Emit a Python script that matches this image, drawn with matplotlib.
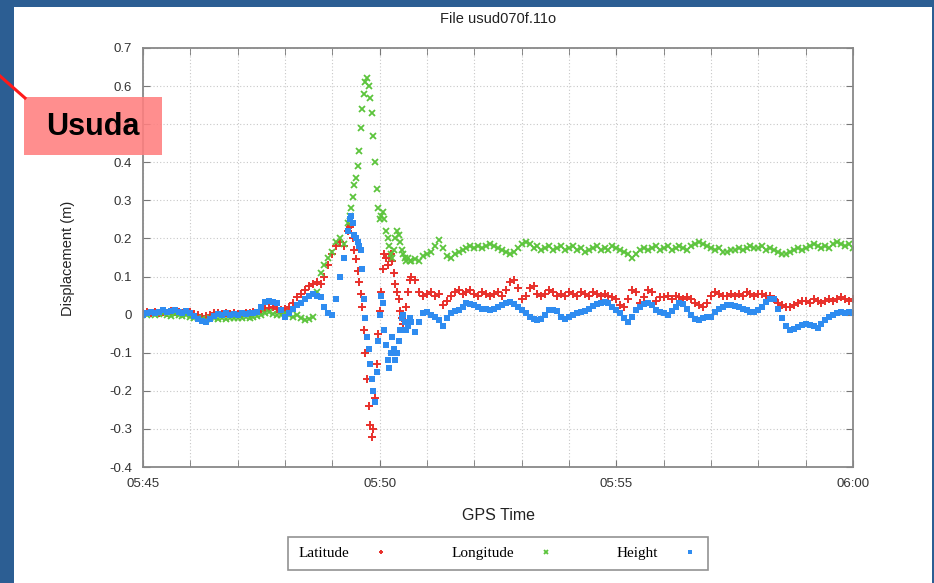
import numpy as np
import matplotlib
matplotlib.use('Agg')
from matplotlib import pyplot as plt
from matplotlib.patches import Rectangle
from matplotlib.lines import Line2D

# time axis: 5 s samples, 2 s samples around the shaking (seconds after 05:45:00)
t_sec = np.concatenate([np.arange(0, 260, 5), np.arange(260, 340, 2), np.arange(340, 905, 5)])

latitude = [
    # 05:45 - 05:49:15 (5 s)
    0.004, 0.006, 0.003, 0.008, 0.005, 0.007, 0.004, 0.009, 0.006, 0.008, 0.005, 0.007,
    0.006, 0.002, -0.002, -0.006, -0.004, 0.000, 0.003, 0.005, 0.002, 0.004, 0.001, 0.003,
    0.002, 0.000, 0.004, 0.003, 0.006, 0.005, 0.010, 0.015, 0.018, 0.020, 0.016, 0.012,
    0.015, 0.020, 0.030, 0.045, 0.055, 0.065, 0.075, 0.080, 0.085, 0.080, 0.100, 0.130,
    0.160, 0.180, 0.190, 0.180,
    # 05:49:20 - 05:50:38 (2 s)
    0.22, 0.23, 0.235, 0.20, 0.17, 0.145, 0.115, 0.085, 0.055, 0.02,
    -0.04, -0.10, -0.17, -0.24, -0.29, -0.32, -0.30, -0.22, -0.13, -0.05,
    0.01, 0.06, 0.12, 0.16, 0.15, 0.13, 0.15, 0.16, 0.14, 0.11,
    0.08, 0.06, 0.04, 0.01, -0.01, -0.025, -0.015, 0.02, 0.06, 0.09,
    # 05:50:40 - 06:00 (5 s)
    0.10, 0.09, 0.06, 0.05,
    0.055, 0.06, 0.05, 0.055, 0.025, 0.035, 0.05, 0.06, 0.065, 0.055, 0.06, 0.065,
    0.055, 0.05, 0.06, 0.055, 0.05, 0.055, 0.06, 0.05, 0.065, 0.085, 0.09, 0.07,
    0.04, 0.05, 0.07, 0.075, 0.055, 0.05, 0.055, 0.065, 0.06, 0.05, 0.055, 0.05,
    0.06, 0.055, 0.05, 0.06, 0.055, 0.05, 0.06, 0.055, 0.05, 0.055, 0.05, 0.045,
    0.04, 0.025, 0.02, 0.04, 0.065, 0.06, 0.03, 0.045, 0.065, 0.06, 0.035, 0.045,
    0.045, 0.05, 0.04, 0.05, 0.045, 0.04, 0.045, 0.04, 0.03, 0.025, 0.02, 0.03,
    0.05, 0.06, 0.055, 0.05, 0.05, 0.055, 0.05, 0.055, 0.05, 0.06, 0.055, 0.05,
    0.055, 0.055, 0.05, 0.05, 0.04, 0.03, 0.025, 0.02, 0.02, 0.025, 0.03, 0.035,
    0.035, 0.03, 0.04, 0.035, 0.03, 0.035, 0.04, 0.035, 0.04, 0.045, 0.04, 0.035,
    0.04]

longitude = [
    0.002, 0.000, 0.003, -0.002, 0.001, 0.004, 0.000, -0.003, 0.002, 0.000, -0.004, -0.002,
    -0.005, -0.008, -0.010, -0.012, -0.014, -0.010, -0.008, -0.011, -0.009, -0.012, -0.010, -0.008,
    -0.010, -0.008, -0.006, -0.009, -0.005, -0.004, 0.000, 0.004, 0.006, 0.002, 0.000, -0.002,
    0.005, 0.000, -0.005, 0.000, -0.010, -0.015, -0.012, -0.005, 0.060, 0.110, 0.130, 0.150,
    0.165, 0.190, 0.200, 0.185,
    0.24, 0.26, 0.28, 0.31, 0.34, 0.36, 0.39, 0.43, 0.49, 0.54,
    0.58, 0.61, 0.62, 0.60, 0.57, 0.53, 0.47, 0.40, 0.33, 0.28,
    0.25, 0.26, 0.27, 0.25, 0.22, 0.20, 0.18, 0.16, 0.15, 0.17,
    0.20, 0.22, 0.21, 0.19, 0.17, 0.16, 0.15, 0.14, 0.15, 0.14,
    0.14, 0.145, 0.14, 0.155,
    0.16, 0.165, 0.18, 0.195, 0.175, 0.155, 0.15, 0.16, 0.165, 0.17, 0.175, 0.18,
    0.175, 0.18, 0.175, 0.18, 0.185, 0.18, 0.175, 0.17, 0.165, 0.16, 0.165, 0.175,
    0.185, 0.19, 0.185, 0.175, 0.18, 0.17, 0.175, 0.18, 0.17, 0.175, 0.18, 0.17,
    0.175, 0.18, 0.17, 0.175, 0.165, 0.17, 0.175, 0.18, 0.17, 0.175, 0.17, 0.18,
    0.175, 0.17, 0.165, 0.16, 0.15, 0.16, 0.17, 0.175, 0.17, 0.175, 0.18, 0.17,
    0.175, 0.18, 0.17, 0.175, 0.18, 0.175, 0.17, 0.18, 0.185, 0.19, 0.185, 0.18,
    0.175, 0.17, 0.175, 0.165, 0.165, 0.17, 0.17, 0.175, 0.17, 0.175, 0.18, 0.175,
    0.175, 0.18, 0.17, 0.175, 0.17, 0.165, 0.16, 0.16, 0.165, 0.17, 0.175, 0.17,
    0.175, 0.18, 0.185, 0.18, 0.175, 0.18, 0.175, 0.185, 0.19, 0.185, 0.18, 0.185,
    0.175]

height = [
    0.000, 0.003, 0.006, 0.004, 0.008, 0.011, 0.007, 0.010, 0.012, 0.008, 0.005, 0.009,
    0.004, -0.003, -0.012, -0.018, -0.020, -0.012, -0.004, 0.002, 0.000, 0.004, -0.002, 0.001,
    0.000, 0.003, 0.002, 0.005, 0.004, 0.006, 0.020, 0.032, 0.036, 0.034, 0.030, 0.012,
    -0.005, 0.005, 0.015, 0.025, 0.030, 0.040, 0.050, 0.055, 0.050, 0.045, 0.020, 0.005,
    0.000, 0.040, 0.100, 0.150,
    0.22, 0.25, 0.26, 0.24, 0.21, 0.20, 0.19, 0.18, 0.17, 0.12,
    0.04, -0.01, -0.06, -0.09, -0.13, -0.17, -0.20, -0.23, -0.15, -0.07,
    0.00, 0.05, 0.03, -0.04, -0.08, -0.12, -0.14, -0.10, -0.06, -0.09,
    -0.12, -0.10, -0.07, -0.04, -0.01, 0.00, -0.02, -0.04, -0.03, -0.01,
    -0.02, -0.045, -0.02, 0.005,
    0.008, 0.0, -0.005, -0.015, -0.03, -0.01, 0.005, 0.01, 0.012, 0.02, 0.03, 0.028,
    0.025, 0.02, 0.015, 0.015, 0.012, 0.015, 0.02, 0.025, 0.03, 0.032, 0.028, 0.02,
    0.012, 0.005, -0.005, -0.012, -0.015, -0.012, 0.0, 0.012, 0.013, 0.01, -0.005, -0.012,
    -0.005, 0.0, 0.005, 0.008, 0.01, 0.015, 0.022, 0.028, 0.03, 0.032, 0.03, 0.02,
    0.012, 0.005, -0.01, -0.02, -0.005, 0.012, 0.02, 0.028, 0.03, 0.025, 0.012, 0.008,
    0.005, 0.0, 0.01, 0.02, 0.03, 0.028, 0.015, 0.0, -0.012, -0.015, -0.01, -0.005,
    -0.005, 0.008, 0.015, 0.02, 0.025, 0.025, 0.022, 0.02, 0.015, 0.012, 0.008, 0.008,
    0.012, 0.02, 0.032, 0.042, 0.04, 0.015, -0.01, -0.03, -0.04, -0.037, -0.032, -0.028,
    -0.025, -0.028, -0.03, -0.035, -0.025, -0.015, -0.005, 0.0, 0.005, 0.008, 0.005, 0.006,
    0.004]

x_ticks = [0, 5, 10, 15]
x_labels = ['05:45', '05:50', '05:55', '06:00']
y_ticks = [-0.4, -0.3, -0.2, -0.1, 0.0, 0.1, 0.2, 0.3, 0.4, 0.5, 0.6, 0.7]
y_labels = ['-0.4', '-0.3', '-0.2', '-0.1', '0', '0.1', '0.2', '0.3', '0.4', '0.5', '0.6', '0.7']

W, H = 934, 583
fig = plt.figure(figsize=(W/100, H/100), dpi=100)
fig.patch.set_facecolor('#2c5e93')
# white slide panel, behind everything
fig.patches.append(Rectangle((14/W, 0), (932-14)/W, (H-7)/H, transform=fig.transFigure,
                             facecolor='white', edgecolor='none', zorder=-10))

ax = fig.add_axes([143/W, 1-467/H, (853-143)/W, (467-48)/H])
ax.set_zorder(1)
ax.patch.set_alpha(0)
tmin = t_sec/60.0
ax.plot(tmin, latitude, '+', color='#e8302b', ms=6, mew=1.4, label='Latitude')
ax.plot(tmin, longitude, 'x', color='#5cc43c', ms=5, mew=1.3, label='Longitude')
ax.plot(tmin, height, 's', color='#2f8cf0', ms=4.3, mew=0, label='Height')

ax.set_xlim(0, 15)
ax.set_ylim(-0.4, 0.7)
ax.set_xticks(x_ticks)
ax.set_xticks(np.arange(0, 16, 1), minor=True)
ax.set_xticklabels(x_labels)
ax.set_yticks(y_ticks)
ax.set_yticklabels(y_labels)
ax.tick_params(which='both', direction='in', top=True, right=True, length=5,
               color='#777777', labelcolor='#333333', labelsize=9.5)
ax.tick_params(axis='x', pad=8)
ax.tick_params(axis='y', pad=8)
for lab in ax.get_xticklabels() + ax.get_yticklabels():
    lab.set_family('Liberation Sans')
for s in ax.spines.values():
    s.set_color('#888888')
    s.set_linewidth(1.3)
ax.grid(which='both', linestyle=(0, (1, 2)), color='#c8c8c8', linewidth=0.8)
ax.set_axisbelow(True)

fig.text(498/W, 1-19/H, 'File usud070f.11o', ha='center', va='center',
         fontsize=10.5, family='Liberation Sans', color='#222222')
fig.text(498/W, 1-515/H, 'GPS Time', ha='center', va='center',
         fontsize=11.5, family='Liberation Sans', color='#222222')
fig.text(68/W, 1-258/H, 'Displacement (m)', ha='center', va='center', rotation=90,
         fontsize=10.5, family='Liberation Sans', color='#222222')

leg = ax.legend(loc='center', bbox_to_anchor=(498/W, 1-553.5/H), bbox_transform=fig.transFigure,
                ncol=3, markerfirst=False, fancybox=False, edgecolor='#777777',
                prop={'family': 'Liberation Serif', 'size': 11}, handlelength=1.0,
                handletextpad=1.6, columnspacing=4.1, borderpad=0.65, markerscale=0.6)
leg.get_frame().set_linewidth(1.2)

# Usuda callout, drawn on top of the axes
ov = fig.add_axes([0, 0, 1, 1])
ov.set_zorder(5)
ov.set_xlim(0, W)
ov.set_ylim(H, 0)
ov.axis('off')
ov.add_line(Line2D([0, 25], [76, 98], color='#ff1a1a', linewidth=2.2))
ov.add_patch(Rectangle((24, 97), 162-24, 155-97, facecolor='#ff7f7f', edgecolor='none', alpha=0.88))
ov.text(93, 127, 'Usuda', ha='center', va='center', fontsize=22, fontweight='bold',
        family='Liberation Sans', color='black')

fig.savefig('out.png', dpi=100, facecolor=fig.get_facecolor())
